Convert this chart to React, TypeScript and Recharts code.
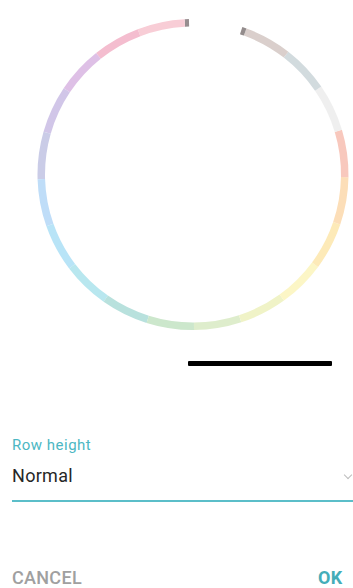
import React from 'react';
import { PieChart, Pie, Cell } from 'recharts';

// ring segments, counterclockwise from the top gap
const SEGMENT_NAMES = [
  'handleStart',
  'red', 'pink', 'purple', 'deepPurple', 'indigo', 'blue', 'lightBlue',
  'cyan', 'teal', 'green', 'lightGreen', 'lime', 'yellow', 'amber',
  'orange', 'deepOrange', 'grey', 'blueGrey', 'brown',
  'handleEnd',
];
const SEGMENT_VALUES = [
  0.09,
  1, 1, 1, 1, 1, 1, 1,
  1, 1, 1, 1, 1, 1, 1,
  1, 1, 1, 1, 1,
  0.09,
];
const SEGMENT_COLORS = [
  '#8f8587',
  '#f8c9d3', '#f4b8cb', '#dcbbe4', '#cec2e7', '#c6c8e6', '#badbf8', '#b3e2f7',
  '#b2e6ee', '#b3dfdb', '#c8e5c8', '#dcecc8', '#eff3c3', '#fcf6c2', '#fde9b2',
  '#fcdcb2', '#f8c4b8', '#eeeeee', '#cfd8dc', '#d7ccc8',
  '#8a8383',
];

const chartData = SEGMENT_NAMES.map((name, i) => ({
  name,
  value: SEGMENT_VALUES[i],
  color: SEGMENT_COLORS[i],
}));

const TEAL = '#4cb7c3';

export default function App() {
  return (
    <div
      style={{
        position: 'absolute',
        left: 0,
        top: 0,
        width: 353,
        height: 588,
        background: '#fff',
        overflow: 'hidden',
        fontFamily: 'Roboto, "Noto Sans", sans-serif',
      }}
    >
      {/* Colour ring */}
      <div style={{ position: 'absolute', left: 0, top: 0, opacity: 0.92 }}>
        <PieChart width={353} height={340}>
          <Pie
            data={chartData}
            dataKey="value"
            nameKey="name"
            cx={188}
            cy={169.5}
            innerRadius={148}
            outerRadius={155.5}
            startAngle={91.5}
            endAngle={431.5}
            stroke="none"
            paddingAngle={0}
            isAnimationActive={false}
          >
            {chartData.map((d) => (
              <Cell key={d.name} fill={d.color} stroke="none" />
            ))}
          </Pie>
        </PieChart>
      </div>

      {/* Black slider bar */}
      <div
        style={{
          position: 'absolute',
          left: 188,
          top: 361,
          width: 144,
          height: 5,
          background: '#000',
          borderRadius: 1,
        }}
      />

      {/* Row height field */}
      <div
        style={{
          position: 'absolute',
          left: 12,
          top: 438,
          fontSize: 15,
          lineHeight: '15px',
          letterSpacing: 0.5,
          color: TEAL,
        }}
      >
        Row height
      </div>
      <div
        style={{
          position: 'absolute',
          left: 12,
          top: 467,
          fontSize: 18,
          lineHeight: '18px',
          letterSpacing: 0.3,
          color: '#262626',
        }}
      >
        Normal
      </div>
      <div
        style={{
          position: 'absolute',
          left: 345,
          top: 472,
          width: 5,
          height: 5,
          borderRight: '1.5px solid #bdbdbd',
          borderBottom: '1.5px solid #bdbdbd',
          transform: 'rotate(45deg)',
        }}
      />
      <div
        style={{
          position: 'absolute',
          left: 12,
          top: 500,
          width: 341,
          height: 2,
          background: '#5bbec9',
        }}
      />

      {/* Dialog buttons */}
      <div
        style={{
          position: 'absolute',
          left: 12,
          top: 567,
          fontSize: 18,
          lineHeight: '21px',
          fontWeight: 500,
          letterSpacing: 0.3,
          color: '#a0a0a0',
        }}
      >
        CANCEL
      </div>
      <div
        style={{
          position: 'absolute',
          left: 318,
          top: 567,
          fontSize: 18,
          lineHeight: '21px',
          fontWeight: 700,
          letterSpacing: 0.3,
          color: '#45adb8',
        }}
      >
        OK
      </div>
    </div>
  );
}
